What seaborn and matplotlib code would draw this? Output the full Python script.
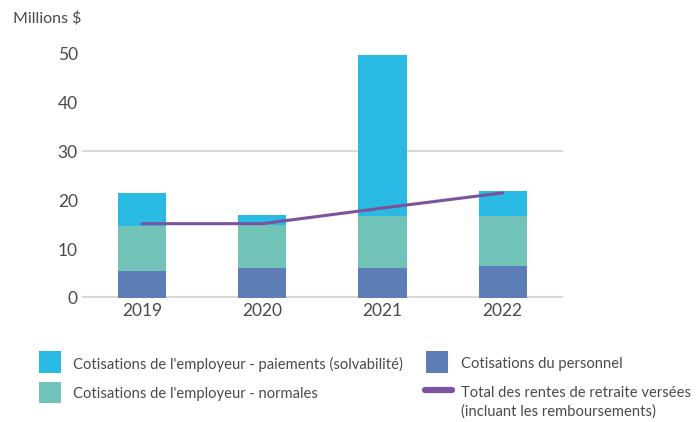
import matplotlib
matplotlib.use("Agg")
import matplotlib.pyplot as plt
import seaborn as sns
import numpy as np
import pandas as pd
from matplotlib.patches import Rectangle
from matplotlib.lines import Line2D

# Data (millions $)
years = ["2019", "2020", "2021", "2022"]
personnel = [5.5, 6.1, 6.1, 6.6]
employeur_normales = [9.2, 8.9, 10.7, 10.2]
employeur_solvabilite = [6.8, 2.0, 33.0, 5.1]
rentes_versees = [15.2, 15.2, 18.4, 21.5]

labels = {
    "solv": "Cotisations de l'employeur - paiements (solvabilité)",
    "norm": "Cotisations de l'employeur - normales",
    "pers": "Cotisations du personnel",
    "rentes": "Total des rentes de retraite versées\n(incluant les remboursements)",
}
colors = {"solv": "#29BAE3", "norm": "#71C2B7", "pers": "#5D7DB6", "rentes": "#7B529D"}

sns.set_style("white")
plt.rcParams["font.family"] = ["Lato", "DejaVu Sans"]
txt_color = "#4a4a4a"

df = pd.DataFrame({
    "year": years,
    "pers": personnel,
    "norm": employeur_normales,
    "solv": employeur_solvabilite,
})
df["bottom_norm"] = df["pers"]
df["bottom_solv"] = df["pers"] + df["norm"]

fig = plt.figure(figsize=(7, 4.22), dpi=100)
ax = fig.add_axes([0.117, 0.294, 0.687, 0.602])

# Stacked bars
sns.barplot(data=df, x="year", y="pers", color=colors["pers"], width=0.4,
            saturation=1, ax=ax, linewidth=0)
sns.barplot(data=df, x="year", y="norm", bottom=df["bottom_norm"], color=colors["norm"],
            width=0.4, saturation=1, ax=ax, linewidth=0)
sns.barplot(data=df, x="year", y="solv", bottom=df["bottom_solv"], color=colors["solv"],
            width=0.4, saturation=1, ax=ax, linewidth=0)

# Line for pensions paid
sns.lineplot(x=np.arange(len(years)), y=rentes_versees, color=colors["rentes"],
             linewidth=2.2, ax=ax, zorder=5)

ax.set_xlim(-0.5, 3.5)
ax.set_ylim(0, 52)
ax.set_yticks([0, 10, 20, 30, 40, 50])
ax.axhline(30, color="#d9d9d9", linewidth=1.5, zorder=0)
ax.axhline(0, color="#d9d9d9", linewidth=3, zorder=0)
for s in ax.spines.values():
    s.set_visible(False)
ax.set_xlabel("")
ax.set_ylabel("")
ax.tick_params(axis="both", length=0, labelsize=12.5, labelcolor=txt_color)
ax.tick_params(axis="y", pad=3)
ax.tick_params(axis="x", pad=4)

fig.text(13 / 700, 1 - 18 / 422, "Millions $", fontsize=11.5, color=txt_color,
         va="center", ha="left")

# Custom legend (pixel coordinates -> figure fraction)
W, H = 700, 422


def square(x, y, w, h, c):
    fig.add_artist(Rectangle((x / W, 1 - (y + h) / H), w / W, h / H,
                             transform=fig.transFigure, color=c, lw=0))


def label(x, y, s):
    fig.text(x / W, 1 - y / H, s, fontsize=10.6, color=txt_color, va="center",
             ha="left")


square(39, 351, 22, 22, colors["solv"])
label(73, 364, labels["solv"])
square(39, 382, 22, 21, colors["norm"])
label(73, 394, labels["norm"])
square(426, 351, 22, 22, colors["pers"])
label(461, 364, labels["pers"])
fig.add_artist(Line2D([425 / W, 452 / W], [1 - 390 / H, 1 - 390 / H],
                      transform=fig.transFigure, color=colors["rentes"],
                      linewidth=4.5, solid_capstyle="round"))
fig.text(461 / W, 1 - 386 / H, labels["rentes"], fontsize=10.6, color=txt_color,
         va="top", ha="left", linespacing=1.35)

fig.savefig("out.png", dpi=100)
